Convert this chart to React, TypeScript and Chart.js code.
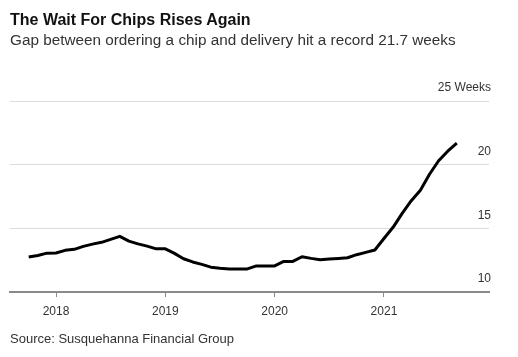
import React, { useEffect, useRef } from 'react';
import { Chart, registerables } from 'chart.js';

Chart.register(...registerables);

const FONT = '"Liberation Sans", Arial, Helvetica, sans-serif';

// Monthly observations (YYYY-MM)
const months: string[] = [
  '2017-10', '2017-11', '2017-12',
  '2018-01', '2018-02', '2018-03', '2018-04', '2018-05', '2018-06',
  '2018-07', '2018-08', '2018-09', '2018-10', '2018-11', '2018-12',
  '2019-01', '2019-02', '2019-03', '2019-04', '2019-05', '2019-06',
  '2019-07', '2019-08', '2019-09', '2019-10', '2019-11', '2019-12',
  '2020-01', '2020-02', '2020-03', '2020-04', '2020-05', '2020-06',
  '2020-07', '2020-08', '2020-09', '2020-10', '2020-11', '2020-12',
  '2021-01', '2021-02', '2021-03', '2021-04', '2021-05', '2021-06',
  '2021-07', '2021-08', '2021-09',
];

// Chip lead time, weeks
const leadTimeWeeks: number[] = [
  12.75, 12.87, 13.05,
  13.06, 13.27, 13.35, 13.58, 13.76, 13.9,
  14.13, 14.37, 14.0, 13.78, 13.6, 13.39,
  13.39, 13.03, 12.61, 12.36, 12.17, 11.95,
  11.87, 11.81, 11.81, 11.81, 12.05, 12.05,
  12.05, 12.4, 12.4, 12.77, 12.64, 12.54,
  12.6, 12.64, 12.69, 12.93, 13.11, 13.3,
  14.2, 15.08, 16.18, 17.17, 17.99, 19.25,
  20.31, 21.06, 21.7,
];

const yearTicks: number[] = [2018, 2019, 2020, 2021];
const yTicks: number[] = [10, 15, 20, 25];
const yUnitLabel = 'Weeks';

const xMin = 2017.579;
const xMax = 2021.961;

function monthToX(m: string): number {
  const [y, mo] = m.split('-').map(Number);
  return y + (mo - 1) / 12;
}

export default function App() {
  const canvasRef = useRef<HTMLCanvasElement | null>(null);

  useEffect(() => {
    if (!canvasRef.current) return;
    const points = months.map((m, i) => ({ x: monthToX(m), y: leadTimeWeeks[i] }));
    const chart = new Chart(canvasRef.current, {
      type: 'line',
      data: {
        datasets: [
          {
            data: points,
            borderColor: '#000000',
            borderWidth: 3,
            pointRadius: 0,
            tension: 0,
            borderJoinStyle: 'round',
            fill: false,
          },
        ],
      },
      options: {
        animation: false,
        responsive: false,
        devicePixelRatio: 1,
        layout: { padding: { left: 10, right: 29, top: 101, bottom: 0 } },
        plugins: {
          legend: { display: false },
          tooltip: { enabled: false },
          title: { display: false },
        },
        scales: {
          x: {
            type: 'linear',
            min: xMin,
            max: xMax,
            afterBuildTicks: (scale: any) => {
              scale.ticks = yearTicks.map((v) => ({ value: v }));
            },
            afterFit: (scale: any) => {
              scale.height = 65;
            },
            grid: {
              drawOnChartArea: false,
              drawTicks: true,
              tickLength: 5,
              color: '#8a8a8a',
              lineWidth: 1,
            },
            border: { display: true, color: '#8a8a8a', width: 2 },
            ticks: {
              autoSkip: false,
              maxRotation: 0,
              padding: 7,
              color: '#333333',
              font: { family: FONT, size: 12 },
              callback: (v: any) => String(v),
            },
          },
          y: {
            position: 'right',
            min: 10,
            max: 25,
            afterBuildTicks: (scale: any) => {
              scale.ticks = yTicks.map((v) => ({ value: v }));
            },
            afterFit: (scale: any) => {
              scale.width = 0;
            },
            grid: {
              drawTicks: false,
              color: (ctx: any) => (ctx.tick && ctx.tick.value === 10 ? 'rgba(0,0,0,0)' : '#dcdcdc'),
              lineWidth: 1,
            },
            border: { display: false },
            ticks: {
              mirror: true,
              padding: 2,
              labelOffset: -13,
              color: '#333333',
              font: { family: FONT, size: 12 },
              callback: (v: any) => (v === 25 ? `${v} ${yUnitLabel}` : String(v)),
            },
          },
        },
      },
    });
    return () => chart.destroy();
  }, []);

  return (
    <div style={{ position: 'absolute', left: 0, top: 0, width: 518, height: 357, background: '#fff', fontFamily: FONT }}>
      <canvas ref={canvasRef} width={518} height={357} style={{ position: 'absolute', left: 0, top: 0, width: 518, height: 357 }} />
      <div style={{ position: 'absolute', left: 10, top: 10, fontSize: 16, lineHeight: '19px', fontWeight: 'bold', color: '#111', whiteSpace: 'nowrap' }}>
        The Wait For Chips Rises Again
      </div>
      <div style={{ position: 'absolute', left: 10, top: 31, fontSize: 15.3, lineHeight: '17px', color: '#333', whiteSpace: 'nowrap' }}>
        Gap between ordering a chip and delivery hit a record 21.7 weeks
      </div>
      <div style={{ position: 'absolute', left: 10, top: 331, fontSize: 13, lineHeight: '15px', color: '#333', whiteSpace: 'nowrap' }}>
        Source: Susquehanna Financial Group
      </div>
    </div>
  );
}
